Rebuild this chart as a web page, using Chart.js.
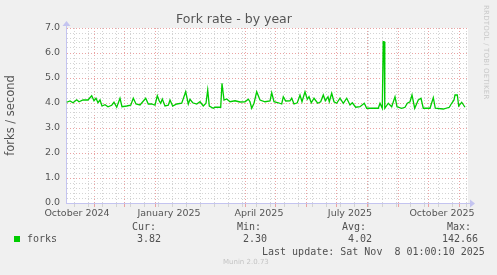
<!DOCTYPE html>
<html>
<head>
<meta charset="utf-8">
<script src="https://cdn.jsdelivr.net/npm/chart.js@4"></script>
<style>
  html, body { margin: 0; padding: 0; background: #f0f0f0; }
  #wrap { position: relative; width: 497px; height: 275px; overflow: hidden; }
  .t { position: absolute; font-family: "DejaVu Sans Mono", monospace; font-size: 10px; line-height: 12px; color: #505050; white-space: pre; }
  #rrd { position: absolute; left: 482px; top: 5px; font-family: "DejaVu Sans", sans-serif; font-size: 7px; color: #c8c8c8; writing-mode: vertical-rl; letter-spacing: 0.2px; }
  #munin { position: absolute; left: 223px; top: 258px; font-family: "DejaVu Sans", sans-serif; font-size: 7px; color: #c4c4c4; }
  #sq { position: absolute; left: 14px; top: 236px; width: 6px; height: 6px; background: #00cc00; }
</style>
</head>
<body>
<div id="wrap">
  <canvas id="myChart" width="497" height="275"></canvas>
  <div id="rrd">RRDTOOL / TOBI OETIKER</div>
  <div class="t" style="left:132px;top:221px">Cur:</div>
  <div class="t" style="left:237px;top:221px">Min:</div>
  <div class="t" style="left:342px;top:221px">Avg:</div>
  <div class="t" style="left:447px;top:221px">Max:</div>
  <div id="sq"></div>
  <div class="t" style="left:27px;top:233px">forks</div>
  <div class="t" style="left:137px;top:233px">3.82</div>
  <div class="t" style="left:243px;top:233px">2.30</div>
  <div class="t" style="left:348px;top:233px">4.02</div>
  <div class="t" style="left:442px;top:233px">142.66</div>
  <div class="t" style="left:262px;top:246px">Last update: Sat Nov  8 01:00:10 2025</div>
  <div id="munin">Munin 2.0.73</div>
</div>
<script>
// days since start of graph (Oct 4 2024), daily averages
var days = [0.7, 4, 7, 10.7, 13, 17, 22, 25.7, 28, 30, 32, 34, 36, 39, 42, 45.7, 48, 50.7, 54, 56,
  60.7, 64.7, 67.3, 70, 74, 79.7, 82.3, 85.7, 89, 91.3, 93.3, 94.7, 96.3, 99, 102.3, 104, 106.7, 110.7, 115.7, 119.7,
  122.3, 124, 126.7, 130.7, 134, 137.3, 140, 141.7, 143.3, 147.3, 149, 154.7, 156, 158, 160.7, 164, 169, 174, 179, 182.3,
  184, 185.7, 188, 190.7, 194, 199, 204, 205.7, 208, 212.3, 215.7, 217.3, 219.7, 224, 225.7, 228, 231.3, 234, 236, 239,
  241.3, 243, 245.3, 248, 251.7, 254.7, 257.3, 259.3, 262, 263.3, 265.7, 268, 270.7, 274, 277.3, 280.7, 284, 286.3, 289.7, 294,
  298.3, 300.7, 305.7, 312.3, 314, 316.3, 317.2, 318, 318.8, 322.3, 325.7, 329, 331, 335.7, 339, 341.3, 344, 346, 348.7, 352.3,
  355, 357.3, 364, 367.3, 369.3, 377.3, 383.3, 385.7, 388, 389, 391.3, 392.7, 395.7, 399];
var forks = [4.03, 4.08, 4.01, 4.13, 4.05, 4.12, 4.12, 4.29, 4.09, 4.19, 4.01, 4.12, 3.88, 3.93, 3.85, 3.91, 4.03, 3.83, 4.19, 3.85,
  3.88, 3.91, 4.19, 3.96, 3.92, 4.19, 3.96, 3.96, 3.91, 4.29, 4.08, 3.99, 4.16, 3.88, 3.91, 4.12, 3.88, 3.96, 3.99, 4.45,
  3.96, 4.15, 4.01, 3.96, 4.05, 3.88, 3.99, 4.52, 3.88, 3.79, 3.83, 3.83, 4.79, 4.12, 4.16, 4.05, 4.09, 4.04, 4.05, 4.15,
  4.05, 3.79, 3.99, 4.45, 4.12, 4.05, 4.08, 4.41, 4.05, 4.01, 3.96, 4.25, 4.08, 4.09, 4.19, 3.96, 4.01, 4.32, 4.05, 4.45,
  4.15, 4.25, 4.01, 4.19, 3.99, 4.05, 4.32, 4.09, 4.25, 4.05, 4.39, 4.05, 3.99, 4.19, 3.99, 4.19, 3.92, 4.01, 3.83, 3.85,
  3.99, 3.79, 3.79, 3.79, 3.99, 3.79, 6.45, 6.45, 3.79, 3.99, 3.85, 4.25, 3.85, 3.79, 3.83, 3.99, 4.05, 4.32, 3.79, 4.12,
  4.19, 3.79, 3.79, 4.21, 3.79, 3.76, 3.83, 3.99, 4.12, 4.32, 4.32, 3.88, 4.03, 3.83];

var monthDays = [28, 58, 89, 120, 148, 179, 209, 240, 270, 301, 332, 362, 393];
var labelDays = [11, 103, 193, 284, 376];
var labelText = ['October 2024', 'January 2025', 'April 2025', 'July 2025', 'October 2025'];
var minorDays = [];
for (var d = 8.5; d < 402; d += 14) minorDays.push(d);

var majorColor = '#eaa3a3';
var minorColor = '#d3d3d3';
var axisColor = '#c4c4f0';

var points = days.map(function (d, i) { return {x: d, y: forks[i]}; });

var plotBg = {
  id: 'plotBg',
  beforeDraw: function (chart) {
    var a = chart.chartArea, c = chart.ctx;
    c.save();
    c.fillStyle = '#ffffff';
    c.fillRect(a.left, a.top, a.right - a.left, a.bottom - a.top);
    c.restore();
  },
  afterDraw: function (chart) {
    var a = chart.chartArea, c = chart.ctx;
    c.save();
    c.strokeStyle = axisColor;
    c.fillStyle = axisColor;
    c.lineWidth = 1;
    c.beginPath();
    c.moveTo(a.right, a.bottom + 0.5); c.lineTo(a.right + 3, a.bottom + 0.5);
    c.moveTo(a.left + 0.5, a.top); c.lineTo(a.left + 0.5, a.top - 3);
    c.stroke();
    c.beginPath();
    c.moveTo(a.right + 2, a.bottom - 3.5); c.lineTo(a.right + 7, a.bottom + 0.5); c.lineTo(a.right + 2, a.bottom + 4.5);
    c.closePath(); c.fill();
    c.beginPath();
    c.moveTo(a.left - 3.5, a.top - 2); c.lineTo(a.left + 0.5, a.top - 7); c.lineTo(a.left + 4.5, a.top - 2);
    c.closePath(); c.fill();
    c.restore();
  }
};

var ctx = document.getElementById('myChart').getContext('2d');
var myChart = new Chart(ctx, {
  type: 'line',
  data: {
    datasets: [{
      label: 'forks',
      data: points,
      borderColor: '#00cc00',
      borderWidth: 1.3,
      pointRadius: 0,
      tension: 0,
      fill: false
    }]
  },
  options: {
    responsive: false,
    animation: false,
    layout: { padding: { left: 0, right: 29, top: 0, bottom: 0 } },
    plugins: {
      legend: { display: false },
      tooltip: { enabled: false },
      title: {
        display: true,
        text: 'Fork rate - by year',
        color: '#555555',
        font: { family: 'DejaVu Sans', size: 12.5, weight: 'normal', lineHeight: 1.2 },
        padding: { top: 12, bottom: 1 }
      }
    },
    scales: {
      x: {
        type: 'linear',
        min: 0,
        max: 402,
        afterFit: function (s) { s.height = 72; },
        afterBuildTicks: function (s) {
          var vals = monthDays.concat(minorDays, labelDays).sort(function (a, b) { return a - b; });
          s.ticks = vals.map(function (v) { return {value: v}; });
        },
        ticks: {
          autoSkip: false,
          maxRotation: 0,
          padding: 1,
          color: '#555555',
          font: { family: 'DejaVu Sans', size: 9.5 },
          callback: function (v) {
            var i = labelDays.indexOf(v);
            return i >= 0 ? labelText[i] : '';
          }
        },
        grid: {
          tickLength: 4,
          color: function (c) {
            var v = c.tick && c.tick.value;
            if (monthDays.indexOf(v) >= 0) return majorColor;
            if (minorDays.indexOf(v) >= 0) return minorColor;
            return 'rgba(0,0,0,0)';
          },
          tickColor: function (c) {
            var v = c.tick && c.tick.value;
            if (monthDays.indexOf(v) >= 0) return majorColor;
            if (minorDays.indexOf(v) >= 0) return minorColor;
            return 'rgba(0,0,0,0)';
          }
        },
        border: { color: axisColor, width: 1, dash: [1, 2] }
      },
      y: {
        min: 0,
        max: 7,
        afterFit: function (s) { s.width = 66; },
        title: {
          display: true,
          text: 'forks / second',
          color: '#555555',
          font: { family: 'DejaVu Sans', size: 11.5 },
          padding: { top: 4, bottom: 0 }
        },
        ticks: {
          stepSize: 0.2,
          autoSkip: false,
          padding: 6,
          color: '#555555',
          font: { family: 'DejaVu Sans', size: 9.5 },
          callback: function (v) {
            return Math.abs(v - Math.round(v)) < 1e-6 ? Math.round(v).toFixed(1) : '';
          }
        },
        grid: {
          drawTicks: false,
          color: function (c) {
            var v = c.tick && c.tick.value;
            return Math.abs(v - Math.round(v)) < 1e-6 ? majorColor : minorColor;
          }
        },
        border: { color: axisColor, width: 1, dash: [1, 2] }
      }
    }
  },
  plugins: [plotBg]
});
</script>
</body>
</html>
